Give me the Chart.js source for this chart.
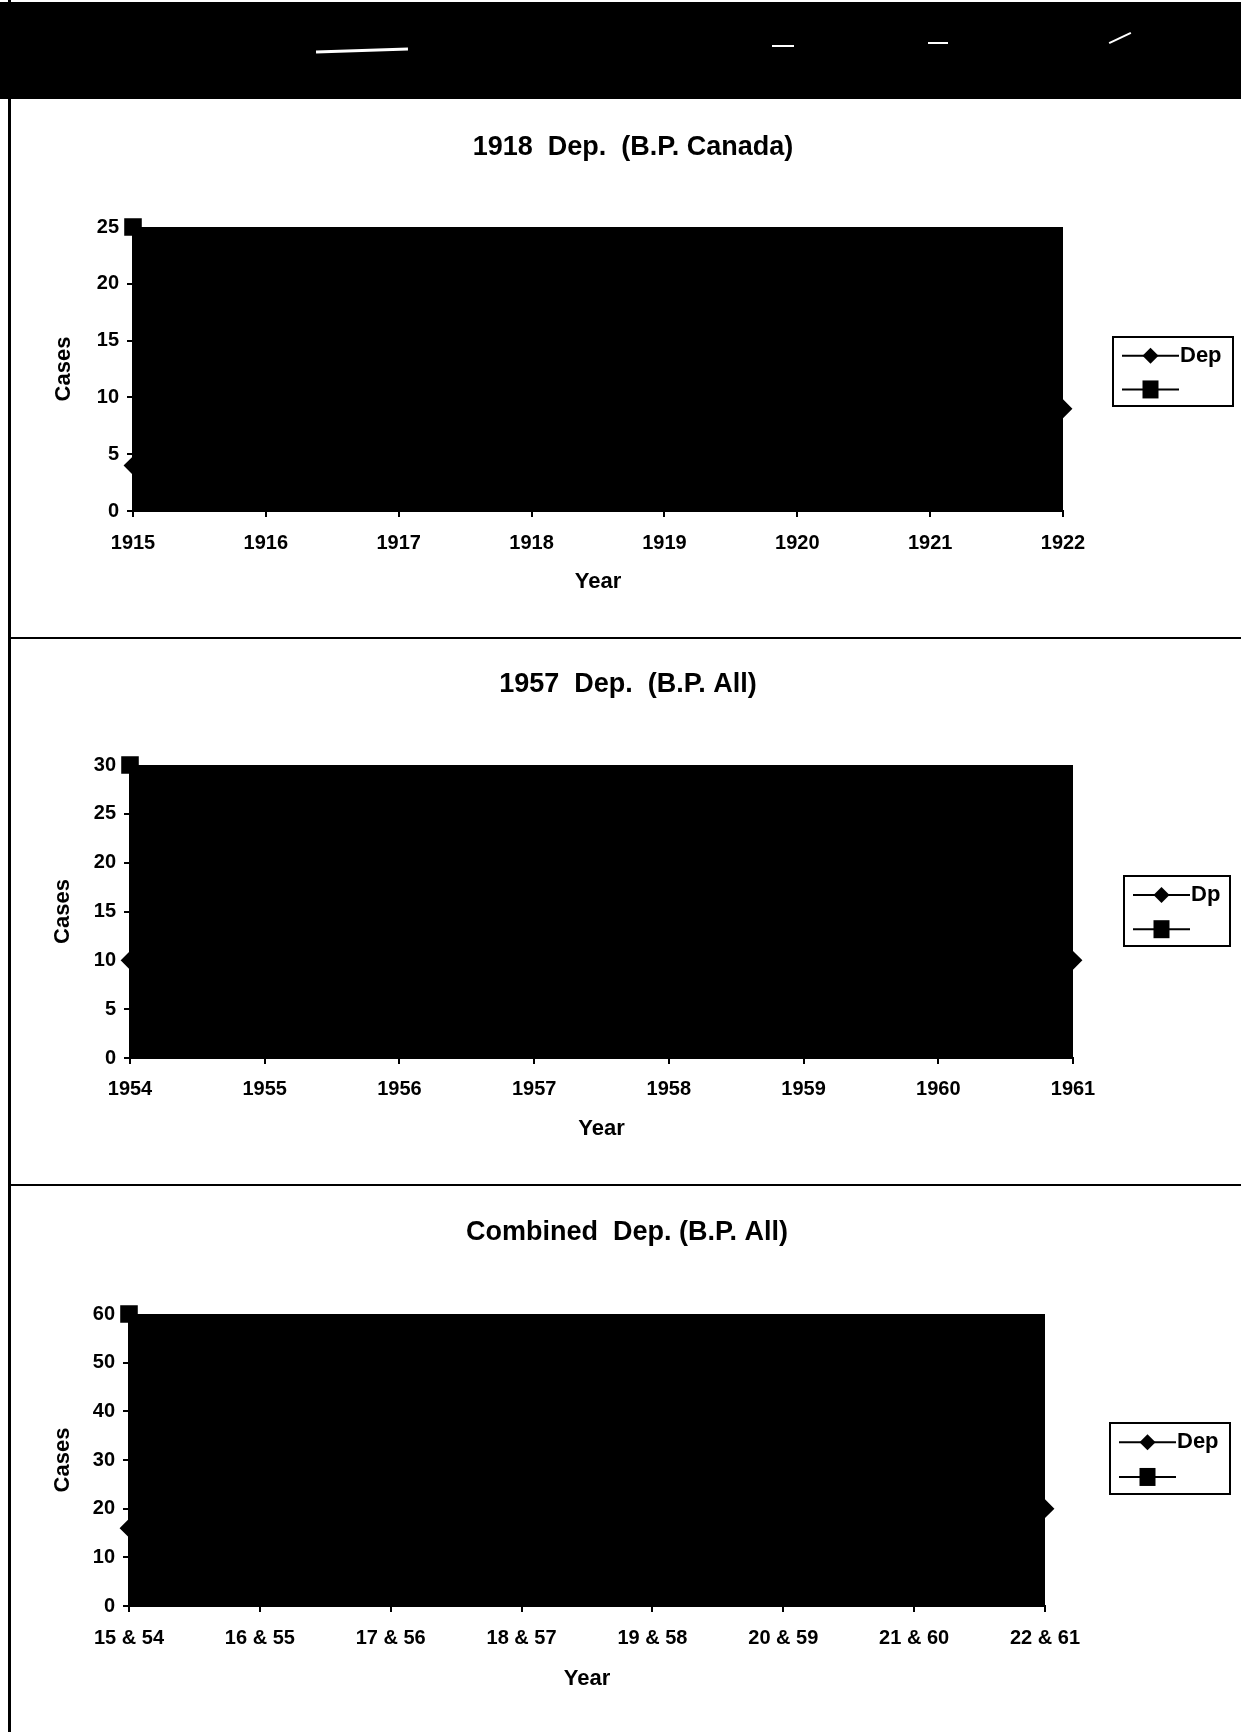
<!DOCTYPE html>
<html lang="en">
<head>
    <meta charset="UTF-8">
    <title>Dep. cases</title>
    <style>
        body {
            margin: 0;
            padding: 0;
            width: 1241px;
            height: 1732px;
            position: relative;
            background: #fff;
            overflow: hidden;
            font-family: 'Liberation Sans', Arial, sans-serif;
        }
        .band {
            position: absolute;
            left: 0;
            top: 2px;
            width: 1241px;
            height: 97px;
            background: #000;
        }
        .streak {
            position: absolute;
            height: 3px;
            background: #fff;
        }
        .border-left {
            position: absolute;
            left: 8px;
            top: 0;
            width: 3px;
            height: 1732px;
            background: #000;
        }
        .sep {
            position: absolute;
            left: 8px;
            width: 1233px;
            height: 2px;
            background: #000;
        }
        .panel {
            position: absolute;
            left: 11px;
        }
    </style>
</head>
<body>
    <div class="band"></div>
    <div class="streak" style="left:316px; top:49px; width:92px; transform:rotate(-2deg);"></div>
    <div class="streak" style="left:772px; top:45px; width:22px; height:2px;"></div>
    <div class="streak" style="left:928px; top:42px; width:20px; height:2px;"></div>
    <div class="streak" style="left:1108px; top:37px; width:24px; height:2px; transform:rotate(-25deg);"></div>
    <div class="border-left"></div>
    <div class="sep" style="top:637px;"></div>
    <div class="sep" style="top:1184px;"></div>

    <div class="panel" style="top:100px;"><canvas id="chart1" width="1230" height="538"></canvas></div>
    <div class="panel" style="top:640px;"><canvas id="chart2" width="1230" height="544"></canvas></div>
    <div class="panel" style="top:1186px;"><canvas id="chart3" width="1230" height="546"></canvas></div>

    <script src="https://cdn.jsdelivr.net/npm/chart.js"></script>
    <script>
        // dados (a linha fica quase invisivel no fundo preto)
        const anos1918 = ['1915', '1916', '1917', '1918', '1919', '1920', '1921', '1922'];
        const dep1918 = [4, 4, 3, 5, 7, 8, 10, 9];
        const ref1918 = [25, null, null, null, null, null, null, null];

        const anos1957 = ['1954', '1955', '1956', '1957', '1958', '1959', '1960', '1961'];
        const dep1957 = [10, 9, 8.5, 9, 10, 10, 12, 10];
        const ref1957 = [30, null, null, null, null, null, null, null];

        const anosComb = ['15 & 54', '16 & 55', '17 & 56', '18 & 57', '19 & 58', '20 & 59', '21 & 60', '22 & 61'];
        const depComb = [16, 14, 19, 24, 19, 21, 22, 20];
        const refComb = [60, null, null, null, null, null, null, null];

        const fonte = 'Liberation Sans, Arial, sans-serif';

        // fundo preto da area do grafico
        const fundoPreto = {
            id: 'fundoPreto',
            beforeDraw(chart) {
                const a = chart.chartArea;
                const ctx = chart.ctx;
                ctx.save();
                ctx.fillStyle = '#000';
                ctx.fillRect(a.left, a.top, a.right - a.left, a.bottom - a.top);
                ctx.restore();
            }
        };

        // titulo centrado na pagina, nao na area do grafico
        const tituloPagina = {
            id: 'tituloPagina',
            afterDraw(chart, args, opts) {
                const ctx = chart.ctx;
                ctx.save();
                ctx.fillStyle = '#000';
                ctx.font = 'bold 27px ' + fonte;
                ctx.textAlign = 'center';
                ctx.textBaseline = 'middle';
                ctx.fillText(opts.text, opts.x, opts.y);
                ctx.restore();
            }
        };

        // legenda com caixa, linha e marcador (estilo Excel)
        const legendaCaixa = {
            id: 'legendaCaixa',
            afterDraw(chart, args, opts) {
                const ctx = chart.ctx;
                const b = opts.box;
                ctx.save();
                ctx.lineWidth = 2;
                ctx.strokeStyle = '#000';
                ctx.strokeRect(b.x, b.y, b.w, b.h);
                const rows = [b.y + b.h * 0.27, b.y + b.h * 0.76];
                chart.data.datasets.forEach((ds, i) => {
                    const y = rows[i];
                    const x0 = b.x + 9, x1 = b.x + 66, xm = (x0 + x1) / 2;
                    ctx.lineWidth = 2;
                    ctx.beginPath();
                    ctx.moveTo(x0, y);
                    ctx.lineTo(x1, y);
                    ctx.stroke();
                    ctx.fillStyle = '#000';
                    ctx.beginPath();
                    if (ds.pointStyle === 'rectRot') {
                        ctx.moveTo(xm, y - 8);
                        ctx.lineTo(xm + 8, y);
                        ctx.lineTo(xm, y + 8);
                        ctx.lineTo(xm - 8, y);
                        ctx.closePath();
                    } else {
                        ctx.rect(xm - 8, y - 9, 16, 18);
                    }
                    ctx.fill();
                    ctx.font = 'bold 22px ' + fonte;
                    ctx.textBaseline = 'middle';
                    ctx.textAlign = 'left';
                    ctx.fillText(ds.label, x1 + 1, y);
                });
                ctx.restore();
            }
        };

        function criarGrafico(id, titulo, labels, dep, ref, nomeDep, maxY, passo, lay) {
            const ctx = document.getElementById(id).getContext('2d');
            return new Chart(ctx, {
                type: 'line',
                data: {
                    labels: labels,
                    datasets: [{
                        label: nomeDep,
                        data: dep,
                        borderColor: '#000',
                        backgroundColor: '#000',
                        borderWidth: 2,
                        pointStyle: 'rectRot',
                        pointRadius: 8,
                        tension: 0,
                        clip: false
                    }, {
                        label: '',
                        data: ref,
                        borderColor: '#000',
                        backgroundColor: '#000',
                        borderWidth: 2,
                        pointStyle: 'rect',
                        pointRadius: 11,
                        clip: false
                    }]
                },
                options: {
                    responsive: false,
                    animation: false,
                    layout: {
                        padding: { left: lay.left, right: lay.right, top: lay.top, bottom: lay.bottom }
                    },
                    plugins: {
                        legend: { display: false },
                        tooltip: { enabled: false },
                        title: { display: false },
                        tituloPagina: { text: titulo, x: lay.tx, y: lay.ty },
                        legendaCaixa: { box: lay.box }
                    },
                    scales: {
                        x: {
                            offset: false,
                            afterFit(scale) { scale.height = lay.xh; },
                            grid: {
                                drawOnChartArea: false,
                                tickLength: 6,
                                color: '#000',
                                lineWidth: 2
                            },
                            border: { display: true, color: '#000', width: 2 },
                            ticks: {
                                color: '#000',
                                padding: lay.xpad,
                                maxRotation: 0,
                                autoSkip: false,
                                font: { family: fonte, size: 20, weight: 'bold' }
                            },
                            title: {
                                display: true,
                                text: 'Year',
                                color: '#000',
                                padding: { top: 0, bottom: 3 },
                                font: { family: fonte, size: 22, weight: 'bold' }
                            }
                        },
                        y: {
                            min: 0,
                            max: maxY,
                            afterFit(scale) { scale.width = lay.yw; },
                            grid: {
                                drawOnChartArea: false,
                                tickLength: 6,
                                color: '#000',
                                lineWidth: 2
                            },
                            border: { display: true, color: '#000', width: 2 },
                            ticks: {
                                stepSize: passo,
                                color: '#000',
                                padding: 8,
                                font: { family: fonte, size: 20, weight: 'bold' }
                            },
                            title: {
                                display: true,
                                text: 'Cases',
                                color: '#000',
                                padding: { top: 10, bottom: 0 },
                                font: { family: fonte, size: 22, weight: 'bold' }
                            }
                        }
                    }
                },
                plugins: [fundoPreto, tituloPagina, legendaCaixa]
            });
        }

        criarGrafico('chart1', '1918  Dep.  (B.P. Canada)', anos1918, dep1918, ref1918, 'Dep', 25, 5, {
            left: 30, right: 178, top: 127, bottom: 40, tx: 622, ty: 48,
            xh: 87, xpad: 14, yw: 92,
            box: { x: 1102, y: 237, w: 120, h: 69 }
        });

        criarGrafico('chart2', '1957  Dep.  (B.P. All)', anos1957, dep1957, ref1957, 'Dp', 30, 5, {
            left: 29, right: 168, top: 125, bottom: 39, tx: 617, ty: 45,
            xh: 87, xpad: 13, yw: 90,
            box: { x: 1113, y: 236, w: 106, h: 70 }
        });

        criarGrafico('chart3', 'Combined  Dep. (B.P. All)', anosComb, depComb, refComb, 'Dep', 60, 10, {
            left: 29, right: 196, top: 128, bottom: 37, tx: 616, ty: 47,
            xh: 89, xpad: 14, yw: 89,
            box: { x: 1099, y: 237, w: 120, h: 71 }
        });
    </script>
</body>
</html>
